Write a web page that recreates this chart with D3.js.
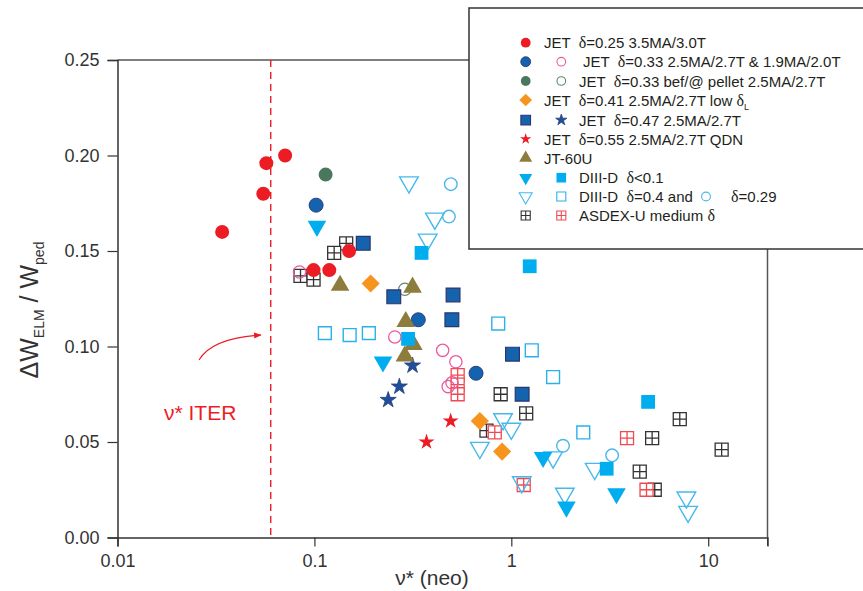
<!DOCTYPE html>
<html>
<head>
<meta charset="utf-8">
<script src="https://cdn.jsdelivr.net/npm/d3@7"></script>
<style>
  body { margin: 0; background: #fff; }
  svg { display: block; font-family: "Liberation Sans", Arial, sans-serif; }
  text { white-space: pre; }
</style>
</head>
<body>
<svg></svg>
<script>
// Values: [nu* (neo), dW_ELM / W_ped]
const jet025 = [[0.034, 0.160], [0.055, 0.180], [0.057, 0.196], [0.071, 0.200], [0.099, 0.140], [0.119, 0.140], [0.150, 0.150]];
const jet033 = [[0.102, 0.174], [0.337, 0.114], [0.662, 0.086]];
const jet033b = [[0.084, 0.139], [0.256, 0.105], [0.448, 0.098], [0.523, 0.092], [0.478, 0.079], [0.50, 0.081]];
const jetPellet = [[0.114, 0.190]];
const jetPelletOpen = [[0.288, 0.130]];
const jet041 = [[0.193, 0.133], [0.692, 0.061], [0.898, 0.045]];
const jet047Sq = [[0.177, 0.154], [0.253, 0.126], [0.506, 0.127], [0.499, 0.114], [1.014, 0.096], [1.135, 0.075]];
const jet047Star = [[0.315, 0.090], [0.270, 0.079], [0.237, 0.072]];
const jet055 = [[0.492, 0.061], [0.371, 0.050]];
const jt60u = [[0.135, 0.132], [0.315, 0.131], [0.291, 0.113], [0.318, 0.101], [0.288, 0.095]];
const d3dLowTri = [[0.103, 0.163], [0.223, 0.092], [1.45, 0.042], [1.905, 0.016], [3.42, 0.023]];
const d3dLowSq = [[0.35, 0.149], [0.299, 0.104], [1.24, 0.142], [4.95, 0.071], [3.05, 0.036]];
const d3dTri = [[0.302, 0.186], [0.409, 0.167], [0.376, 0.156], [0.692, 0.047], [0.908, 0.062], [1.0, 0.057], [1.13, 0.029], [1.63, 0.042], [1.87, 0.023], [2.65, 0.036], [7.75, 0.021], [7.9, 0.0135]];
const d3dSq = [[0.113, 0.107], [0.151, 0.106], [0.189, 0.107], [0.858, 0.112], [1.27, 0.098], [1.63, 0.084], [2.32, 0.055]];
const d3dCirc = [[0.493, 0.185], [0.482, 0.168], [1.83, 0.048], [3.25, 0.043]];
const augBlack = [[0.145, 0.154], [0.126, 0.149], [0.085, 0.137], [0.099, 0.135], [0.883, 0.075], [1.19, 0.065], [0.748, 0.056], [7.17, 0.062], [5.19, 0.052], [4.49, 0.0345], [5.35, 0.025], [11.7, 0.046]];
const augRed = [[0.534, 0.085], [0.534, 0.080], [0.534, 0.075], [0.824, 0.055], [1.156, 0.0275], [3.87, 0.052], [4.86, 0.025]];

const iterNu = 0.06;
const xTicks = [0.01, 0.1, 1, 10];
const yTicks = [0, 0.05, 0.10, 0.15, 0.20, 0.25];

const W = 863, H = 591;
const svg = d3.select("svg").attr("width", W).attr("height", H);

const x = d3.scaleLog().domain([0.01, 20]).range([117.5, 767.5]);
const y = d3.scaleLinear().domain([0, 0.25]).range([537.5, 60]);

// marker shapes, centred on 0,0
function shape(type, k) {
  const s = k || 1;
  switch (type) {
    case "circle": return d3.symbol(d3.symbolCircle, 154 * s * s)();
    case "square": return d3.symbol(d3.symbolSquare, 190 * s * s)();
    case "osquare": return d3.symbol(d3.symbolSquare, 165 * s * s)();
    case "diamond": return d3.symbol(d3.symbolSquare, 165 * s * s)();
    case "star": return d3.symbol(d3.symbolStar, 80 * s * s)();
    case "tri": return d3.symbol(d3.symbolTriangle, 150 * s * s)();
    case "grid": {
      const h = 6.5 * s;
      return `M${-h},${-h}H${h}V${h}H${-h}Z M0,${-h}V${h} M${-h},0H${h}`;
    }
  }
}

const styles = {
  jet025:     { t: "circle", fill: "#ec1c24", stroke: "none" },
  jet033:     { t: "circle", fill: "#1463ae", stroke: "#2e3d7c", sw: 1 },
  jet033b:    { t: "circle", fill: "none", stroke: "#ec5a9b", sw: 1.3, k: 0.88 },
  jetPellet:  { t: "circle", fill: "#4b785c", stroke: "none" },
  jetPelOpen: { t: "circle", fill: "none", stroke: "#5b8a6b", sw: 1.2, k: 0.88 },
  jet041:     { t: "diamond", fill: "#f7941d", stroke: "none", rot: 45 },
  jet047Sq:   { t: "square", fill: "#1563ac", stroke: "#2b3670", sw: 1.2 },
  jet047Star: { t: "star", fill: "#1f4f9c", stroke: "#26407e", sw: 0.8 },
  jet055:     { t: "star", fill: "#ec1c24", stroke: "none" },
  jt60u:      { t: "tri", fill: "#8c7d3c", stroke: "none" },
  d3dLowTri:  { t: "tri", fill: "#00adee", stroke: "none", rot: 180 },
  d3dLowSq:   { t: "square", fill: "#00adee", stroke: "none" },
  d3dTri:     { t: "tri", fill: "none", stroke: "#45b9ec", sw: 1.4, rot: 180 },
  d3dSq:      { t: "osquare", fill: "none", stroke: "#2bb0ea", sw: 1.4 },
  d3dCirc:    { t: "circle", fill: "none", stroke: "#4cb6ea", sw: 1.4, k: 0.9 },
  augBlack:   { t: "grid", fill: "#fff", stroke: "#333", sw: 1.3 },
  augRed:     { t: "grid", fill: "#fff", stroke: "#ef4a52", sw: 1.3 }
};

function plot(data, st) {
  svg.append("g").selectAll("path")
    .data(data)
    .join("path")
    .attr("d", shape(st.t, st.k))
    .attr("transform", d => `translate(${x(d[0])},${y(d[1])}) rotate(${st.rot || 0})`)
    .attr("fill", st.fill)
    .attr("stroke", st.stroke)
    .attr("stroke-width", st.sw || 0);
}

// frame (top + right)
svg.append("path")
  .attr("d", `M117.5,60H767.5V537.5`)
  .attr("fill", "none").attr("stroke", "#555").attr("stroke-width", 1.5);

// axes
const axisColor = "#333";
const xMinor = [];
for (let e = -2; e <= 1; e++) for (let m = 2; m <= 9; m++) { const v = m * Math.pow(10, e); if (v <= 20) xMinor.push(v); }
const yMinor = [0.025, 0.075, 0.125, 0.175, 0.225];

const gx = svg.append("g").attr("transform", "translate(0,537.5)");
gx.call(d3.axisBottom(x).tickValues(xMinor).tickSize(5).tickFormat(""));
gx.call(d3.axisBottom(x).tickValues(xTicks).tickSize(9).tickPadding(8).tickFormat(d3.format("~g")));
gx.append("line").attr("x1", x(20)).attr("x2", x(20)).attr("y1", 0).attr("y2", 8).attr("stroke", axisColor);

const gy = svg.append("g").attr("transform", "translate(117.5,0)");
gy.call(d3.axisLeft(y).tickValues(yMinor).tickSize(5).tickFormat(""));
gy.call(d3.axisLeft(y).tickValues(yTicks).tickSize(10).tickPadding(8).tickFormat(d3.format(".2f")));

svg.selectAll(".domain").attr("stroke", axisColor).attr("stroke-width", 1.5);
svg.selectAll(".tick line").attr("stroke", axisColor).attr("stroke-width", 1.2);
svg.selectAll(".tick text").attr("font-size", 18).attr("fill", "#333")
  .attr("font-family", "'Liberation Sans', Arial, sans-serif");

// axis titles
svg.append("text").attr("x", 432).attr("y", 585).attr("text-anchor", "middle")
  .attr("font-size", 21).attr("fill", "#333").text("ν* (neo)");

const yt = svg.append("text")
  .attr("transform", "translate(38,310) rotate(-90)")
  .attr("text-anchor", "middle").attr("font-size", 25).attr("fill", "#333");
yt.append("tspan").text("ΔW");
yt.append("tspan").attr("font-size", 14).attr("dy", 6).text("ELM");
yt.append("tspan").attr("dy", -6).text(" / W");
yt.append("tspan").attr("font-size", 14).attr("dy", 6).text("ped");

// ITER line + annotation
svg.append("line")
  .attr("x1", x(iterNu)).attr("x2", x(iterNu)).attr("y1", 60).attr("y2", 537.5)
  .attr("stroke", "#ec1c24").attr("stroke-width", 1.4).attr("stroke-dasharray", "7,5");
svg.append("defs").append("marker")
  .attr("id", "ah").attr("viewBox", "0 0 10 10").attr("refX", 9).attr("refY", 5)
  .attr("markerWidth", 7).attr("markerHeight", 7).attr("orient", "auto")
  .append("path").attr("d", "M0,1L10,5L0,9Z").attr("fill", "#ec1c24");
svg.append("path")
  .attr("d", "M199,360 Q212,338 261,335")
  .attr("fill", "none").attr("stroke", "#ec1c24").attr("stroke-width", 1.1)
  .attr("marker-end", "url(#ah)");
svg.append("text").attr("x", 164).attr("y", 420).attr("font-size", 21)
  .attr("fill", "#ec1c24").text("ν* ITER");

// data
plot(augBlack, styles.augBlack);
plot(augRed, styles.augRed);
plot(jet033b, styles.jet033b);
plot(jetPelletOpen, styles.jetPelOpen);
plot(d3dSq, styles.d3dSq);
plot(d3dCirc, styles.d3dCirc);
plot(d3dTri, styles.d3dTri);
plot(jet025, styles.jet025);
plot(jet033, styles.jet033);
plot(jetPellet, styles.jetPellet);
plot(jet041, styles.jet041);
plot(jet047Sq, styles.jet047Sq);
plot(jet047Star, styles.jet047Star);
plot(jet055, styles.jet055);
plot(jt60u, styles.jt60u);
plot(d3dLowTri, styles.d3dLowTri);
plot(d3dLowSq, styles.d3dLowSq);

// legend
const legendRows = [
  { m: ["jet025"], tx: 544, label: "JET  δ=0.25 3.5MA/3.0T" },
  { m: ["jet033", "jet033b"], tx: 583, label: "JET  δ=0.33 2.5MA/2.7T & 1.9MA/2.0T" },
  { m: ["jetPellet", "jetPelOpen"], tx: 579, label: "JET  δ=0.33 bef/@ pellet 2.5MA/2.7T" },
  { m: ["jet041"], tx: 544, label: "JET  δ=0.41 2.5MA/2.7T low δ", sub: "L" },
  { m: ["jet047Sq", "jet047Star"], tx: 579, label: "JET  δ=0.47 2.5MA/2.7T" },
  { m: ["jet055"], tx: 544, label: "JET  δ=0.55 2.5MA/2.7T QDN" },
  { m: ["jt60u"], tx: 544, label: "JT-60U" },
  { m: ["d3dLowTri", "d3dLowSq"], tx: 579, label: "DIII-D  δ<0.1" },
  { m: ["d3dTri", "d3dSq"], tx: 579, label: "DIII-D  δ=0.4 and", extra: "δ=0.29" },
  { m: ["augBlack", "augRed"], tx: 579, label: "ASDEX-U medium δ" }
];
const rowY = [42.7, 61.7, 81, 100, 120, 139, 158, 177.7, 196.5, 215.5];

const lg = svg.append("g");
lg.append("rect").attr("x", 469).attr("y", 8).attr("width", 410).attr("height", 241)
  .attr("fill", "#fff").attr("stroke", "#333").attr("stroke-width", 1.5);

function legendMarker(key, cx, cy) {
  const st = styles[key];
  lg.append("path")
    .attr("d", shape(st.t, (st.k || 1) * 0.7))
    .attr("transform", `translate(${cx},${cy}) rotate(${st.rot || 0})`)
    .attr("fill", st.fill).attr("stroke", st.stroke)
    .attr("stroke-width", st.sw ? Math.min(st.sw, 1.1) : 0);
}

function richText(tx, ty, str) {
  const t = lg.append("text").attr("x", tx).attr("y", ty).attr("font-size", 15).attr("fill", "#231f20");
  str.split(/(δ)/).forEach(part => {
    if (!part) return;
    const sp = t.append("tspan").text(part);
    if (part === "δ") sp.attr("font-family", "'Liberation Serif', 'DejaVu Serif', serif").attr("font-size", 16);
  });
  return t;
}

legendRows.forEach((r, i) => {
  const cy = rowY[i];
  legendMarker(r.m[0], 525.7, cy);
  if (r.m[1]) legendMarker(r.m[1], 561.3, cy);
  const t = richText(r.tx, cy + 5.5, r.label);
  if (r.sub) t.append("tspan").attr("font-size", 9).attr("dy", 4).text("L");
  if (r.extra) {
    legendMarker("d3dCirc", 706, cy);
    richText(731, cy + 5.5, r.extra);
  }
});
</script>
</body>
</html>
